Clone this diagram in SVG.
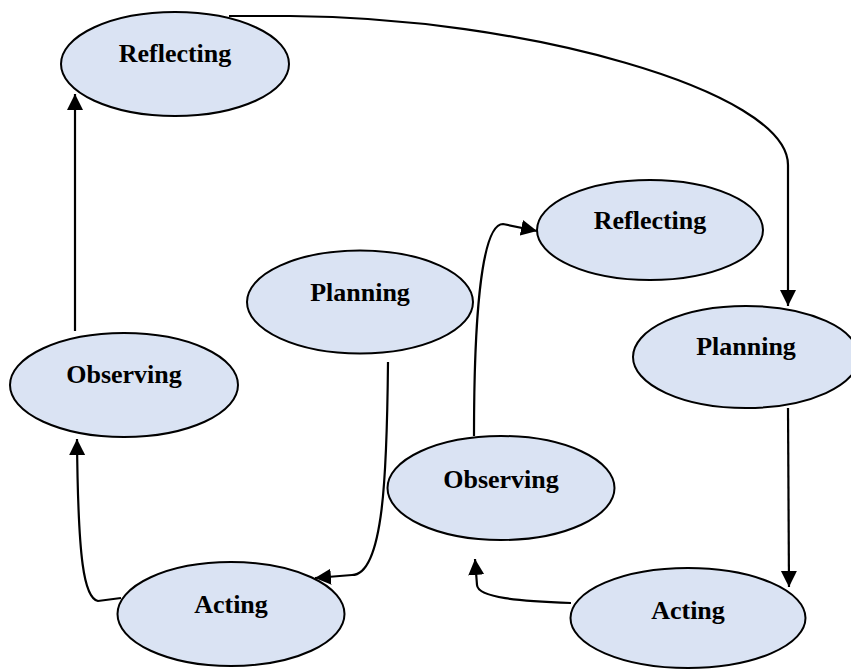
<svg xmlns="http://www.w3.org/2000/svg" width="851" height="669" viewBox="0 0 851 669">
<style>
.node ellipse{fill:#dae3f3;stroke:#000;stroke-width:2}
.node text{font-family:"Liberation Serif","Times New Roman",serif;font-weight:bold;font-size:26px;text-anchor:middle;fill:#000}
#connectors path{fill:none;stroke:#000;stroke-width:2.2;marker-end:url(#arrow)}
</style>
<defs>
<marker id="arrow" markerUnits="userSpaceOnUse" markerWidth="17" markerHeight="17" refX="16" refY="8" orient="auto">
<path d="M0,0 L16,8 L0,16 z" fill="#000"/>
</marker>
</defs>
<rect width="851" height="669" fill="#fff"/>
<g id="connectors">
<path d="M229,16 L290,16 C520,17 788,90 788,165 L788,306"/>
<path d="M75,331 L75,94"/>
<path d="M121,598 L98,601 C84,598 78,560 77,439"/>
<path d="M388,362 C387,470 384,575 352,575 L315,578"/>
<path d="M474,436 C474,330 480,224 503,224 L537,231"/>
<path d="M571,603 C520,601 478,598 477,585 L475,559"/>
<path d="M788,408 L789,587"/>
</g>
<g id="reflecting1" class="node"><ellipse cx="175" cy="64" rx="114" ry="52"/><text x="175" y="62">Reflecting</text></g>
<g id="observing1" class="node"><ellipse cx="124" cy="385" rx="114" ry="52"/><text x="124" y="383">Observing</text></g>
<g id="acting1" class="node"><ellipse cx="231" cy="614" rx="113.5" ry="52"/><text x="231" y="613">Acting</text></g>
<g id="planning1" class="node"><ellipse cx="360" cy="302" rx="113" ry="51.5"/><text x="360" y="301">Planning</text></g>
<g id="reflecting2" class="node"><ellipse cx="650" cy="230" rx="113" ry="50"/><text x="650" y="229">Reflecting</text></g>
<g id="planning2" class="node"><ellipse cx="746" cy="357" rx="113" ry="51"/><text x="746" y="355">Planning</text></g>
<g id="observing2" class="node"><ellipse cx="501" cy="488" rx="113.5" ry="52"/><text x="501" y="488">Observing</text></g>
<g id="acting2" class="node"><ellipse cx="688" cy="618" rx="117.5" ry="50"/><text x="688" y="619">Acting</text></g>
</svg>
